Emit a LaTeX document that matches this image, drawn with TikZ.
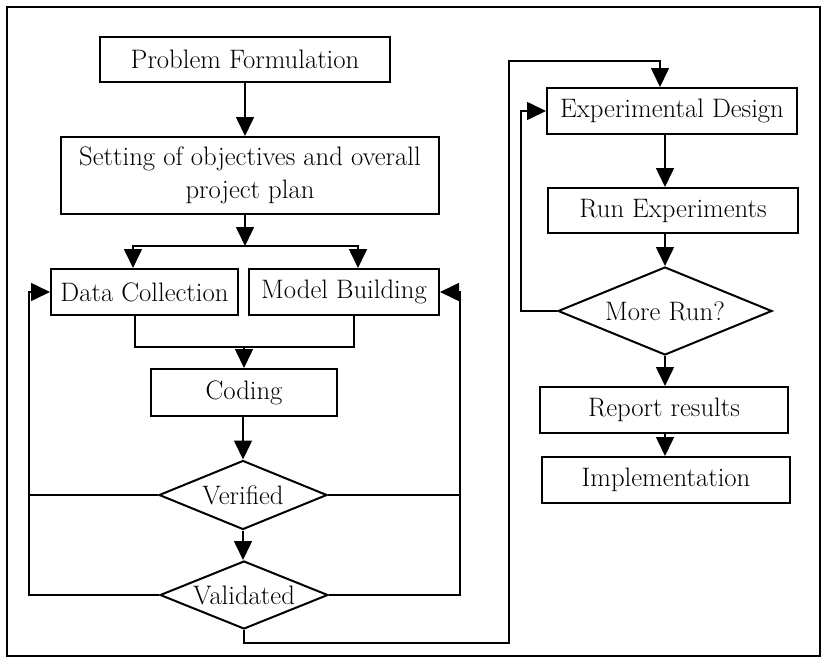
\documentclass[tikz,border=0pt]{standalone}
\usetikzlibrary{shapes.geometric,arrows.meta}
\begin{document}
\begin{tikzpicture}[x=1pt,y=-1pt,
  every node/.style={font=\fontsize{26.7}{33}\selectfont, inner sep=0pt, align=center},
  procbox/.style={draw, line width=2pt, rectangle},
  decide/.style={draw, line width=2pt, diamond, shape aspect=2.43},
  conn/.style={line width=1.6pt},
  arr/.style={conn, -{Triangle[length=19pt,width=18pt]}}]
\useasboundingbox[fill=white] (0,0) rectangle (822,659);
\draw[line width=2pt] (7,7) rectangle (820,656);
% left column
\node[procbox, minimum width=290, minimum height=45] (pf) at (245,59.5) {Problem Formulation};
\node[procbox, minimum width=378, minimum height=77] (sop) at (250,175.5) {Setting of objectives and overall\\project plan};
\node[procbox, minimum width=187, minimum height=46] (dc) at (144.5,292) {Data Collection};
\node[procbox, minimum width=190, minimum height=46] (mb) at (344,292) {Model Building};
\node[procbox, minimum width=186, minimum height=47] (cod) at (244,392.5) {Coding};
\node[decide, minimum width=168, minimum height=69] (ver) at (243,495) {Verified};
\node[decide, minimum width=168, minimum height=68] (val) at (244,595) {Validated};
% right column
\node[procbox, minimum width=250, minimum height=46] (ed) at (672,111) {Experimental Design};
\node[procbox, minimum width=250, minimum height=45] (re) at (673,210.5) {Run Experiments};
\node[decide, minimum width=214, minimum height=88] (mr) at (665,311) {More Run?};
\node[procbox, minimum width=248, minimum height=46] (rr) at (664,410) {Report results};
\node[procbox, minimum width=248, minimum height=46] (imp) at (666,480) {Implementation};
% helper coordinates
\coordinate (s) at (245,246);
\coordinate (j) at (244,347);
\coordinate (L) at (29,0);
\coordinate (R) at (460,0);
\coordinate (b1) at (509,643);
\coordinate (t1) at (509,61);
% connectors left
\draw[arr] (pf.south) -- (pf.south |- sop.north);
\draw[arr] (sop.south -| s) -- (s);
\draw[arr] (s) -| ([xshift=-11.5]dc.north);
\draw[arr] (s) -| ([xshift=14]mb.north);
\draw[conn] ([xshift=-9.5]dc.south) |- (j) -| ([xshift=10]mb.south);
\draw[arr] (j) -- (j |- cod.north);
\draw[arr] (cod.south -| ver.north) -- (ver.north);
\draw[arr] (ver.south) -- (ver.south |- val.north);
\draw[conn] (ver.west) -- (ver.west -| L);
\draw[arr] (val.west) -| (L |- dc.west) -- (dc.west);
\draw[conn] (ver.east) -- (ver.east -| R);
\draw[arr] (val.east) -| (R |- mb.east) -- (mb.east);
% link to right column
\draw[arr] (val.south) |- (b1) -- (t1) -| ([xshift=-12]ed.north);
% connectors right
\draw[arr] (ed.south -| mr.north) -- (re.north -| mr.north);
\draw[arr] (re.south -| mr.north) -- (mr.north);
\draw[arr] (mr.south) -- (mr.south |- rr.north);
\draw[arr] (rr.south -| mr.south) -- (imp.north -| mr.south);
\draw[arr] (mr.west) -| ([xshift=-25]ed.west) -- (ed.west);
\end{tikzpicture}
\end{document}
